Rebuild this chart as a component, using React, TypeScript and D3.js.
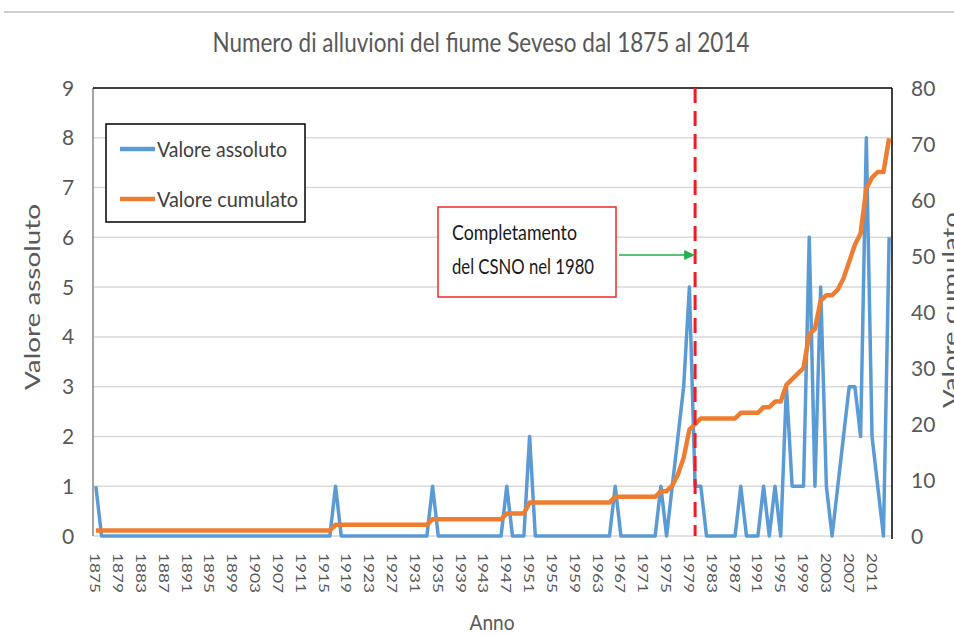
import React from "react"
import * as d3 from "d3"

// anni 1875-2014
const years = d3.range(1875, 2015)

// numero di alluvioni per anno
const valoreAssoluto = [
  1, 0, 0, 0, 0, 0, 0, 0, 0, 0, // 1875
  0, 0, 0, 0, 0, 0, 0, 0, 0, 0, // 1885
  0, 0, 0, 0, 0, 0, 0, 0, 0, 0, // 1895
  0, 0, 0, 0, 0, 0, 0, 0, 0, 0, // 1905
  0, 0, 1, 0, 0, 0, 0, 0, 0, 0, // 1915
  0, 0, 0, 0, 0, 0, 0, 0, 0, 1, // 1925
  0, 0, 0, 0, 0, 0, 0, 0, 0, 0, // 1935
  0, 0, 1, 0, 0, 0, 2, 0, 0, 0, // 1945
  0, 0, 0, 0, 0, 0, 0, 0, 0, 0, // 1955
  0, 1, 0, 0, 0, 0, 0, 0, 0, 1, // 1965
  0, 1, 2, 3, 5, 1, 1, 0, 0, 0, // 1975
  0, 0, 0, 1, 0, 0, 0, 1, 0, 1, // 1985
  0, 3, 1, 1, 1, 6, 1, 5, 1, 0, // 1995
  1, 2, 3, 3, 2, 8, 2, 1, 0, 6, // 2005
]

const valoreCumulato = [
  1, 1, 1, 1, 1, 1, 1, 1, 1, 1, // 1875
  1, 1, 1, 1, 1, 1, 1, 1, 1, 1, // 1885
  1, 1, 1, 1, 1, 1, 1, 1, 1, 1, // 1895
  1, 1, 1, 1, 1, 1, 1, 1, 1, 1, // 1905
  1, 1, 2, 2, 2, 2, 2, 2, 2, 2, // 1915
  2, 2, 2, 2, 2, 2, 2, 2, 2, 3, // 1925
  3, 3, 3, 3, 3, 3, 3, 3, 3, 3, // 1935
  3, 3, 4, 4, 4, 4, 6, 6, 6, 6, // 1945
  6, 6, 6, 6, 6, 6, 6, 6, 6, 6, // 1955
  6, 7, 7, 7, 7, 7, 7, 7, 7, 8, // 1965
  8, 9, 11, 14, 19, 20, 21, 21, 21, 21, // 1975
  21, 21, 21, 22, 22, 22, 22, 23, 23, 24, // 1985
  24, 27, 28, 29, 30, 36, 37, 42, 43, 43, // 1995
  44, 46, 49, 52, 54, 62, 64, 65, 65, 71, // 2005
]

const leftTicks = [0, 1, 2, 3, 4, 5, 6, 7, 8, 9]
const rightTicks = [0, 10, 20, 30, 40, 50, 60, 70, 80]
const tickYears = years.filter((y) => (y - 1875) % 4 === 0)
const markerYear = 1980

const W = 954
const H = 636
const plot = { left: 93, right: 892, top: 88, bottom: 536 }
const font = "Lato, 'Open Sans', sans-serif"
const grey = "#595959"
const blue = "#5B9BD5"
const orange = "#ED7D31"

export default function App() {
  const x = d3.scalePoint<number>().domain(years).range([plot.left, plot.right]).padding(0.5)
  const yL = d3.scaleLinear().domain([0, 9]).range([plot.bottom, plot.top])
  const yR = d3.scaleLinear().domain([0, 80]).range([plot.bottom, plot.top])

  const lineAbs = d3
    .line<number>()
    .x((_, i) => x(years[i]) as number)
    .y((d) => yL(d))
  const lineCum = d3
    .line<number>()
    .x((_, i) => x(years[i]) as number)
    .y((d) => yR(d))

  const xm = x(markerYear) as number

  return (
    <svg
      width={W}
      height={H}
      style={{ position: "absolute", left: 0, top: 0, background: "#fff" }}
      fontFamily={font}
    >
      <rect width={W} height={H} fill="#fff" />
      <line x1={4} x2={W} y1={12} y2={12} stroke="#cfcfcf" strokeWidth={2} />

      <text x={481} y={52} textAnchor="middle" fontSize={26} fill={grey} textLength={537} lengthAdjust="spacingAndGlyphs">
        Numero di alluvioni del fiume Seveso dal 1875 al 2014
      </text>

      {/* griglia */}
      {leftTicks.slice(1, -1).map((t) => (
        <line key={t} x1={plot.left} x2={plot.right} y1={yL(t)} y2={yL(t)} stroke="#d9d9d9" strokeWidth={1.5} />
      ))}
      <line x1={plot.left} x2={plot.right} y1={plot.bottom} y2={plot.bottom} stroke="#d9d9d9" strokeWidth={1.5} />
      <line x1={plot.left} x2={plot.left} y1={plot.top} y2={plot.bottom} stroke="#868686" strokeWidth={1.5} />
      <line x1={plot.left} x2={plot.right} y1={plot.top} y2={plot.top} stroke="#000" strokeWidth={1.5} />
      <line x1={plot.right} x2={plot.right} y1={plot.top} y2={plot.bottom + 3} stroke="#000" strokeWidth={1.5} />

      {/* assi */}
      {leftTicks.map((t) => (
        <text key={t} x={68} y={yL(t)} dy="0.36em" textAnchor="middle" fontSize={21} fill={grey}>
          {t}
        </text>
      ))}
      {rightTicks.map((t) => (
        <text key={t} x={911} y={yR(t)} dy="0.36em" textAnchor="start" fontSize={21} fill={grey}>
          {t}
        </text>
      ))}
      {tickYears.map((yr) => (
        <text
          key={yr}
          transform={`translate(${x(yr)},553) rotate(90)`}
          dominantBaseline="central"
          textAnchor="start"
          fontSize={14}
          fill={grey}
          textLength={40}
          lengthAdjust="spacingAndGlyphs"
        >
          {yr}
        </text>
      ))}
      <text x={492} y={630} textAnchor="middle" fontSize={22} fill={grey} textLength={45} lengthAdjust="spacingAndGlyphs">
        Anno
      </text>
      <text transform="translate(40,297) rotate(-90)" textAnchor="middle" fontSize={22} fill={grey} textLength={186} lengthAdjust="spacingAndGlyphs">
        Valore assoluto
      </text>
      <text transform="translate(958,310) rotate(-90)" textAnchor="middle" fontSize={22} fill={grey} textLength={196} lengthAdjust="spacingAndGlyphs">
        Valore cumulato
      </text>

      {/* serie */}
      <path d={lineAbs(valoreAssoluto) ?? ""} fill="none" stroke={blue} strokeWidth={3.5} strokeLinejoin="round" />
      <path d={lineCum(valoreCumulato) ?? ""} fill="none" stroke={orange} strokeWidth={4.5} strokeLinejoin="round" />

      <line x1={xm} x2={xm} y1={plot.top} y2={plot.bottom} stroke="#ee1c25" strokeWidth={3} strokeDasharray="15 8" />

      {/* annotazione */}
      <rect x={438} y={207} width={178} height={90} fill="#fff" stroke="#ee2a2a" strokeWidth={1.5} />
      <text x={452} y={240} fontSize={21} fill="#1a1a1a" textLength={125} lengthAdjust="spacingAndGlyphs">
        Completamento
      </text>
      <text x={452} y={274} fontSize={21} fill="#1a1a1a" textLength={142} lengthAdjust="spacingAndGlyphs">
        del CSNO nel 1980
      </text>
      <line x1={619} x2={xm - 9} y1={255} y2={255} stroke="#22b14c" strokeWidth={1.5} />
      <path d={`M${xm},255 L${xm - 11},250 L${xm - 11},260 Z`} fill="#22b14c" />

      {/* legenda */}
      <rect x={106} y={124} width={199} height={98} fill="#fff" stroke="#000" strokeWidth={1.5} />
      <line x1={120} x2={155} y1={149} y2={149} stroke={blue} strokeWidth={4.5} />
      <text x={157} y={157} fontSize={22} fill="#404040" textLength={130} lengthAdjust="spacingAndGlyphs">
        Valore assoluto
      </text>
      <line x1={120} x2={155} y1={199} y2={199} stroke={orange} strokeWidth={4.5} />
      <text x={157} y={207} fontSize={22} fill="#404040" textLength={141} lengthAdjust="spacingAndGlyphs">
        Valore cumulato
      </text>
    </svg>
  )
}
